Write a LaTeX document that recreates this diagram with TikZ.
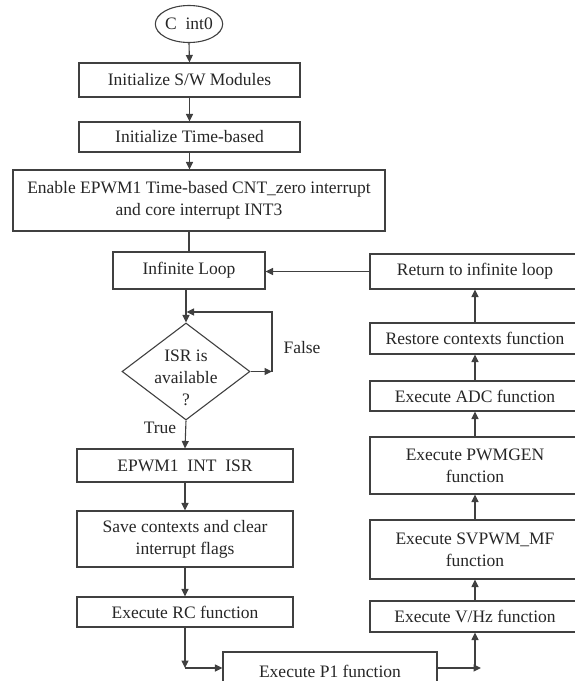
\documentclass[tikz,border=0pt]{standalone}
\usepackage{fontspec}
\setmainfont{Liberation Serif}
\usetikzlibrary{arrows.meta,shapes.geometric}
\begin{document}
\begin{tikzpicture}[x=1pt,y=-1pt,
  every node/.style={font=\fontsize{17.5}{22}\selectfont, text=black!85},
  box/.style={draw=black!75, line width=1.1pt, rectangle, inner sep=0pt, align=center},
  link/.style={draw=black!75, line width=1.1pt, -{Triangle[length=7.5pt,width=7pt]}},
  plain/.style={draw=black!75, line width=1.1pt}]
\useasboundingbox (0,0) rectangle (575,681);
% left column
\node[draw=black!75, line width=1.1pt, ellipse, minimum width=64pt, minimum height=37pt, inner sep=0pt] (start) at (189,24) {C\ \ int0};
\node[box, minimum width=221pt, minimum height=34pt] (n1) at (189.5,80) {Initialize S/W Modules};
\node[box, minimum width=221pt, minimum height=30pt] (n2) at (189.5,137) {Initialize Time-based};
\node[box, minimum width=372pt, minimum height=61pt] (n3) at (199,200.5) {Enable EPWM1 Time-based CNT\_zero interrupt\\and core interrupt INT3};
\node[box, minimum width=152pt, minimum height=37pt] (n4) at (189,270.5) {Infinite Loop};
\node[draw=black!75, line width=1.1pt, diamond, minimum width=128pt, minimum height=97pt, inner sep=0pt] (dec) at (186,371.5) {};
\node[align=center, inner sep=0pt] (dectxt) at (186,378) {ISR is\\available\\?};
\node[anchor=west] (lfalse) at (280,348) {False};
\node (ltrue) at (160,428) {True};
\node[box, minimum width=216pt, minimum height=33pt] (n5) at (185,465.5) {EPWM1\ \ INT\ \ ISR};
\node[box, minimum width=216pt, minimum height=56pt] (n6) at (185,539) {Save contexts and clear\\interrupt flags};
\node[box, minimum width=216pt, minimum height=30pt] (n7) at (185,612) {Execute RC function};
\node[box, minimum width=214pt, minimum height=38pt] (n8) at (330,671) {Execute P1 function};
% right column
\node[box, minimum width=210pt, minimum height=35pt] (r1) at (475,271.5) {Return to infinite loop};
\node[box, minimum width=210pt, minimum height=31pt] (r2) at (475,338.5) {Restore contexts function};
\node[box, minimum width=210pt, minimum height=30pt] (r3) at (475,396) {Execute ADC function};
\node[box, minimum width=210pt, minimum height=57pt] (r4) at (475,465.5) {Execute PWMGEN\\function};
\node[box, minimum width=210pt, minimum height=59pt] (r5) at (475,549.5) {Execute SVPWM\_MF\\function};
\node[box, minimum width=210pt, minimum height=31pt] (r6) at (475,616.5) {Execute V/Hz function};
% helper coordinates
\coordinate (f1) at (272,371.5);
\coordinate (f2) at (272,312);
\coordinate (f3) at (186.5,312);
\coordinate (j1) at (185,668);
\coordinate (j2) at (475,668);
\coordinate (j3) at (481,668);
% connectors
\draw[link] (start.south) -- (n1.north);
\draw[link] (n1.south) -- (n2.north);
\draw[link] (n2.south) -- (n2.south |- n3.north);
\draw[plain] (n4.north |- n3.south) -- (n4.north);
\draw[link] (dec.north |- n4.south) -- (dec.north);
\draw[link] (dec.east) -- (f1);
\draw[link] (f1) -- (f2) -- (f3);
\draw[link] (dec.south) -- (n5.north);
\draw[link] (n5.south) -- (n6.north);
\draw[link] (n6.south) -- (n7.north);
\draw[link] (n7.south) -- (j1);
\draw[link] (j1) -- (n8.west |- j1);
\draw[link] (n8.east |- j3) -- (j3);
\draw[link] (j2) -- (r6.south);
\draw[link] (r6.north) -- (r5.south);
\draw[link] (r5.north) -- (r4.south);
\draw[link] (r4.north) -- (r3.south);
\draw[link] (r3.north) -- (r2.south);
\draw[link] (r2.north) -- (r1.south);
\draw[link] (r1.west) -- (n4.east |- r1.west);
\end{tikzpicture}
\end{document}
